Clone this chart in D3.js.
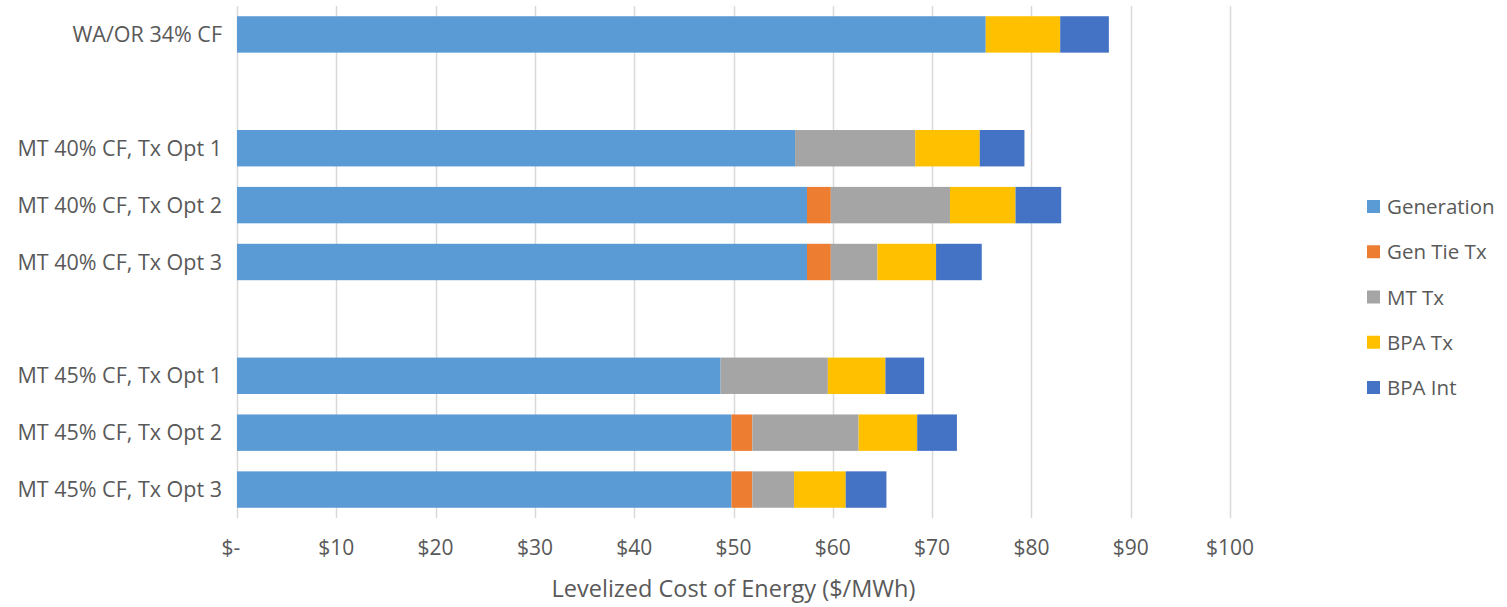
<!DOCTYPE html>
<html><head><meta charset="utf-8">
<script src="https://cdn.jsdelivr.net/npm/d3@7"></script>
<style>
body{margin:0;background:#fff;}
text{font-family:"Open Sans",sans-serif;fill:#595959;}
</style>
</head><body>
<svg id="chart" width="1507" height="607"></svg>
<script>
const categories = ["WA/OR 34% CF", "", "MT 40% CF, Tx Opt 1", "MT 40% CF, Tx Opt 2", "MT 40% CF, Tx Opt 3", "", "MT 45% CF, Tx Opt 1", "MT 45% CF, Tx Opt 2", "MT 45% CF, Tx Opt 3"];
const seriesNames = ["Generation", "Gen Tie Tx", "MT Tx", "BPA Tx", "BPA Int"];
const generation = [75.4, null, 56.2, 57.4, 57.4, null, 48.7, 49.8, 49.8];
const genTieTx   = [0,    null, 0,    2.4,  2.4,  null, 0,    2.1,  2.1];
const mtTx       = [0,    null, 12.1, 12.0, 4.7,  null, 10.8, 10.7, 4.2];
const bpaTx      = [7.5,  null, 6.5,  6.6,  5.9,  null, 5.8,  5.9,  5.2];
const bpaInt     = [4.9,  null, 4.5,  4.6,  4.6,  null, 3.9,  4.0,  4.1];
const tickValues = [0, 10, 20, 30, 40, 50, 60, 70, 80, 90, 100];
const tickLabels = ["$-", "$10", "$20", "$30", "$40", "$50", "$60", "$70", "$80", "$90", "$100"];
const axisTitle = "Levelized Cost of Energy ($/MWh)";
const colors = ["#5B9BD5", "#ED7D31", "#A5A5A5", "#FFC000", "#4472C4"];

const seriesValues = [generation, genTieTx, mtTx, bpaTx, bpaInt];
const table = categories.map((c, i) => {
  const row = {idx: i, label: c};
  seriesNames.forEach((s, j) => row[s] = seriesValues[j][i] || 0);
  return row;
});

const svg = d3.select("#chart");
const x = d3.scaleLinear().domain([0, 100]).range([237, 1230]);
const y = d3.scaleBand().domain(d3.range(categories.length)).range([6, 518]).paddingInner(0.36).paddingOuter(0.18);

// gridlines
svg.append("g").selectAll("line").data(tickValues).join("line")
  .attr("x1", d => Math.round(x(d)) + 0.5).attr("x2", d => Math.round(x(d)) + 0.5)
  .attr("y1", 6).attr("y2", 518)
  .attr("stroke", "#d9d9d9").attr("stroke-width", 1.5);

// bars
const stack = d3.stack().keys(seriesNames);
const stacked = stack(table);
svg.append("g").selectAll("g").data(stacked).join("g")
  .attr("fill", (d, i) => colors[i])
  .selectAll("rect").data(d => d.filter(p => p[1] - p[0] > 0)).join("rect")
  .attr("x", d => x(d[0]))
  .attr("width", d => x(d[1]) - x(d[0]))
  .attr("y", d => y(d.data.idx))
  .attr("height", y.bandwidth());

// y labels
svg.append("g").selectAll("text").data(table.filter(d => d.label)).join("text")
  .attr("x", 222).attr("y", d => y(d.idx) + y.bandwidth() / 2)
  .attr("dy", "0.35em").attr("text-anchor", "end")
  .style("font-size", "21.5px").text(d => d.label);

// x tick labels
svg.append("g").selectAll("text").data(tickValues).join("text")
  .attr("x", (d, i) => x(d) - (i === 0 ? 6 : 0)).attr("y", 548)
  .attr("dy", "0.35em").attr("text-anchor", "middle")
  .style("font-size", "21px").text((d, i) => tickLabels[i]);

// axis title
svg.append("text").attr("x", (x(0) + x(100)) / 2).attr("y", 589)
  .attr("dy", "0.35em").attr("text-anchor", "middle")
  .style("font-size", "23.5px").text(axisTitle);

// legend
const lg = svg.append("g").selectAll("g").data(seriesNames).join("g")
  .attr("transform", (d, i) => `translate(1367,${207 + i * 45.25})`);
lg.append("rect").attr("x", 0).attr("y", -7).attr("width", 13).attr("height", 13)
  .attr("fill", (d, i) => colors[i]);
lg.append("text").attr("x", 20).attr("y", 0).attr("dy", "0.35em")
  .style("font-size", "20.5px").text(d => d);
</script>
</body></html>
